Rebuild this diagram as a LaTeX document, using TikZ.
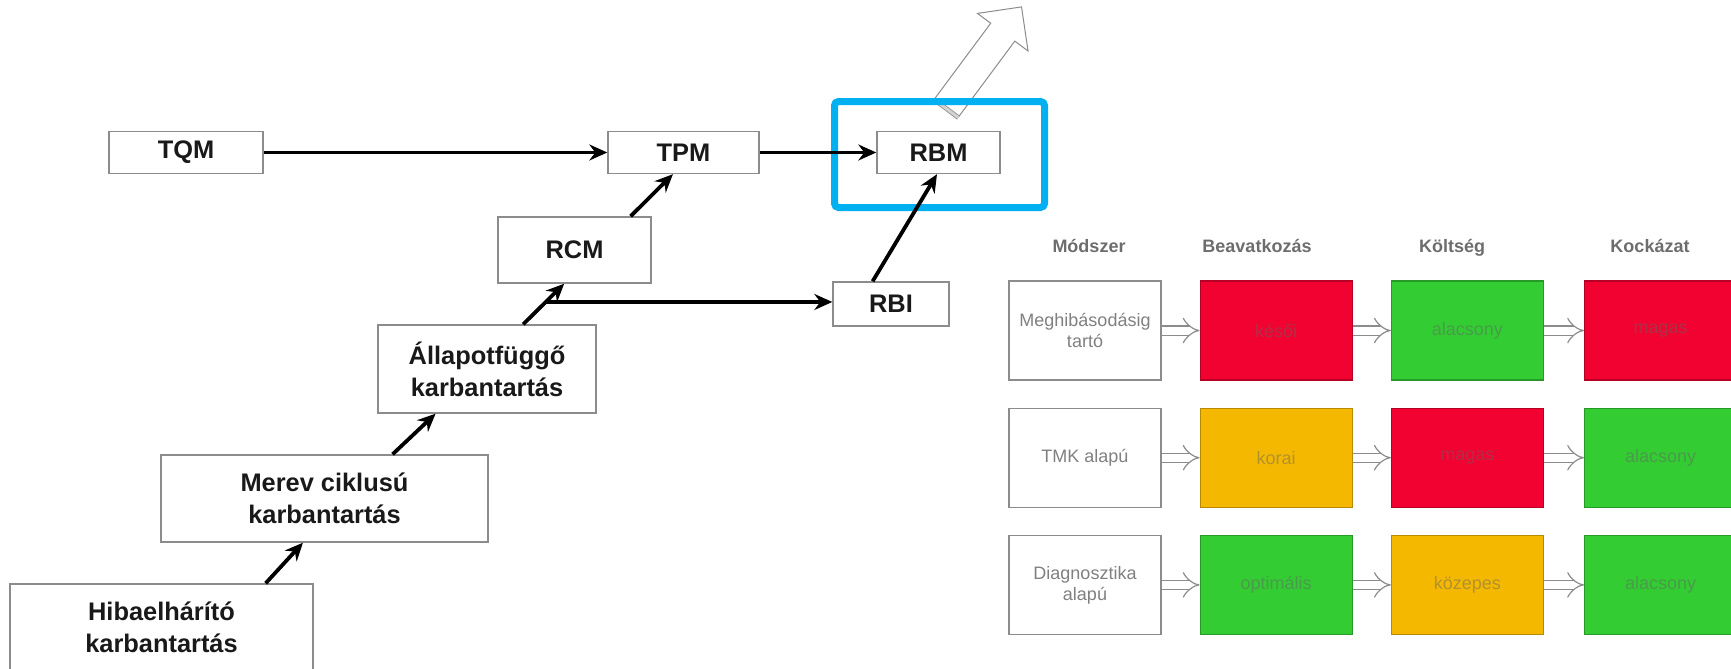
\documentclass[tikz,border=0pt]{standalone}
\usepackage{fontspec}
\setmainfont{Liberation Sans}
\usepackage{xcolor}
\usetikzlibrary{arrows.meta, positioning, shapes.arrows}
\definecolor{boxgray}{HTML}{8C8C8C}
\definecolor{labelgray}{HTML}{808080}
\definecolor{framecyan}{HTML}{00B0F0}
\definecolor{riskred}{HTML}{F20231}
\definecolor{riskgreen}{HTML}{33CC33}
\definecolor{riskorange}{HTML}{F5B800}
\tikzset{
    stagebox/.style={
        rectangle,
        draw=boxgray,
        fill=white,
        line width=0.7pt,
        align=center,
        inner sep=0pt,
        text=black!90,
        font=\fontsize{12.7}{16}\selectfont\bfseries
    },
    methodbox/.style={
        rectangle,
        draw=boxgray,
        fill=white,
        line width=0.6pt,
        align=center,
        inner sep=0pt,
        minimum width=76pt,
        minimum height=49.5pt,
        text=labelgray,
        font=\fontsize{9}{10.5}\selectfont
    },
    ratebox/.style={
        methodbox,
        fill=#1,
        draw=#1!75!black,
        text=#1!60!gray!90!black
    },
    headlabel/.style={
        anchor=base,
        text=labelgray!85!black,
        font=\fontsize{9}{11}\selectfont\bfseries
    },
    bigarrow/.style={
        single arrow,
        draw=boxgray,
        fill=white,
        line width=0.5pt,
        minimum height=63pt,
        minimum width=31pt,
        inner sep=7.25pt,
        single arrow head extend=8.25pt
    },
    arrow/.style={
        -{Stealth[length=9pt, width=8pt, inset=3pt]},
        line width=1.9pt,
        draw=black
    },
    hollowarrow/.style={
        -{Implies},
        draw=boxgray,
        double=white,
        double distance=4pt,
        line width=0.6pt
    }
}

\begin{document}
\begin{tikzpicture}[x=0.5pt, y=-0.5pt]
    \useasboundingbox (0,0) rectangle (1731,669);

    % maintenance stages
    \node[stagebox, minimum width=77pt, minimum height=21pt] (tqm) at (186,152.5) {TQM};
    \node[stagebox, minimum width=75.5pt, minimum height=21pt] (tpm) at (683.5,152.5) {TPM};
    \node[stagebox, minimum width=61.5pt, minimum height=21pt] (rbm) at (938.5,152.5) {RBM};
    \node[stagebox, minimum width=76.5pt, minimum height=33pt] (rcm) at (574.5,250) {RCM};
    \node[stagebox, minimum width=58pt, minimum height=22pt] (rbi) at (891,304) {RBI};
    \node[stagebox, minimum width=109pt, minimum height=44pt] (allapot) at (487,369) {Állapotfüggő\\karbantartás};
    \node[stagebox, minimum width=163.5pt, minimum height=43.5pt] (merev) at (324.5,498.5) {Merev ciklusú\\karbantartás};
    \node[stagebox, minimum width=151.5pt, minimum height=43.5pt] (hib) at (161.5,627.5) {Hibaelhárító\\karbantartás};

    \node[bigarrow, rotate=53.4] (upgrade) at (979.5,63.5) {};
    \draw[draw=boxgray, double=gray!35, double distance=1.5pt, line width=0.4pt] (upgrade.before tail) -- (upgrade.after tail);
    \draw[framecyan, line width=3.5pt, rounded corners=2pt] (834.5,101.5) rectangle (1044.5,207.5);

    \draw[arrow] (tqm) -- (tpm);
    \draw[arrow] (tpm) -- (rbm);
    \draw[arrow] (rcm.31) -- (tpm.-116);
    \draw[arrow] (rbi.129) -- (rbm.-94);
    \draw[arrow] (allapot.51.5) -- coordinate[pos=0.55] (split) (rcm.-107.7);
    \draw[arrow] (split) -- (split -| rbi.west);
    \draw[arrow] (merev.33.6) -- (allapot.-139.8);
    \draw[arrow] (hib.23.3) -- (merev.-116.3);

    % comparison table
    \node[headlabel] (hmethod) at (1089,252) {Módszer};
    \node[headlabel] (hinterv) at (1257,252) {Beavatkozás};
    \node[headlabel] (hcost) at (1452,252) {Költség};
    \node[headlabel] (hrisk) at (1650,252) {Kockázat};

    \node[methodbox] (m1) at (1085,330.5) {Meghibásodásig\\tartó};
    \node[ratebox=riskred, right=19pt of m1] (i1) {késői};
    \node[ratebox=riskgreen, right=19pt of i1] (c1) {alacsony};
    \node[ratebox=riskred, right=20pt of c1] (r1) {magas};

    \node[methodbox, below=13.5pt of m1] (m2) {TMK alapú};
    \node[ratebox=riskorange, right=19pt of m2] (i2) {korai};
    \node[ratebox=riskred, right=19pt of i2] (c2) {magas};
    \node[ratebox=riskgreen, right=20pt of c2] (r2) {alacsony};

    \node[methodbox, below=13.5pt of m2] (m3) {Diagnosztika\\alapú};
    \node[ratebox=riskgreen, right=19pt of m3] (i3) {optimális};
    \node[ratebox=riskorange, right=19pt of i3] (c3) {közepes};
    \node[ratebox=riskgreen, right=20pt of c3] (r3) {alacsony};

    \draw[hollowarrow] (m1) -- (i1);
    \draw[hollowarrow] (i1) -- (c1);
    \draw[hollowarrow] (c1) -- (r1);
    \draw[hollowarrow] (m2) -- (i2);
    \draw[hollowarrow] (i2) -- (c2);
    \draw[hollowarrow] (c2) -- (r2);
    \draw[hollowarrow] (m3) -- (i3);
    \draw[hollowarrow] (i3) -- (c3);
    \draw[hollowarrow] (c3) -- (r3);
\end{tikzpicture}
\end{document}
